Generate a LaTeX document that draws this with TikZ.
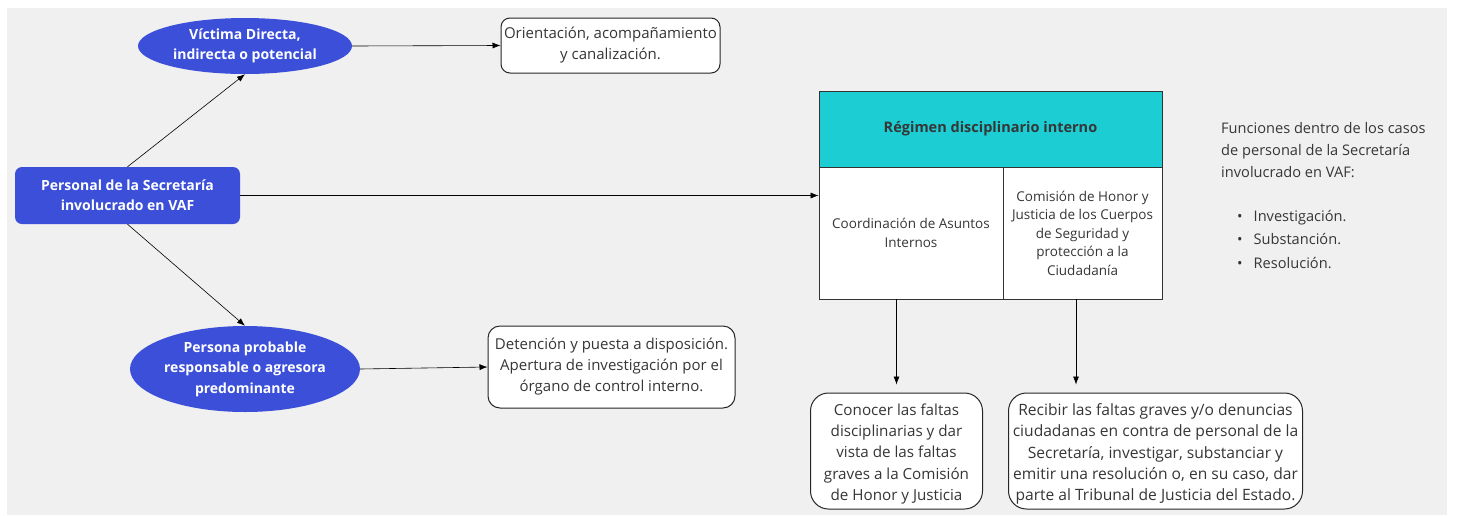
\documentclass[tikz,border=0pt]{standalone}
\usepackage{fontspec}
\setmainfont{Open Sans}
\usetikzlibrary{shapes.geometric,arrows.meta,calc}
\definecolor{bgc}{HTML}{F0F0F0}
\definecolor{blu}{HTML}{3B4FD9}
\definecolor{teal2}{HTML}{1CCDD4}
\definecolor{txt}{HTML}{363636}
\begin{document}
\begin{tikzpicture}[x=1pt,y=-1pt,
  arr/.style={-{Latex[length=8pt,width=6pt]},line width=0.6pt,black},
  bluebox/.style={fill=blu,draw=none,rounded corners=7pt,text=white,font=\fontsize{14}{20}\selectfont\bfseries,align=center,inner sep=0pt},
  blueell/.style={ellipse,fill=blu,draw=none,text=white,font=\fontsize{14}{20.5}\selectfont\bfseries,align=center,inner sep=0pt},
  wbox/.style={fill=white,draw=black!85,line width=1pt,text=txt,font=\fontsize{15}{21}\selectfont,align=center,inner sep=0pt},
  lowtext/.style={text=txt,align=center,inner sep=0pt,yshift=-3pt},
  cell/.style={fill=white,draw=black!80,line width=0.8pt,text=txt,font=\fontsize{13.5}{18.5}\selectfont,align=center,inner sep=0pt}]
\useasboundingbox (0,0) rectangle (1457,515);
\fill[white] (0,0) rectangle (1457,515);
\fill[bgc] (7,8) rectangle (1447,515);

\node[bluebox,minimum width=225pt,minimum height=57pt] (pers) at (127.5,195.5) {Personal de la Secretaría\\involucrado en VAF};
\node[blueell,minimum width=214pt,minimum height=56pt] (vic) at (245,46) {Víctima Directa,\\indirecta o potencial};
\node[blueell,minimum width=230pt,minimum height=86pt] (prob) at (245,369) {Persona probable\\responsable o agresora\\predominante};
\node[wbox,rounded corners=9pt,minimum width=219pt,minimum height=55pt] (ori) at (610.5,45.5) {Orientación, acompañamiento\\y canalización.};
\node[wbox,rounded corners=12pt,minimum width=247pt,minimum height=82pt] (det) at (611.5,367) {Detención y puesta a disposición.\\Apertura de investigación por el\\órgano de control interno.};

\node[cell,fill=teal2,minimum width=343pt,minimum height=76pt,font=\fontsize{14.5}{18}\selectfont\bfseries] (reg) at (990.5,129) {Régimen disciplinario interno};
\node[cell,minimum width=184pt,minimum height=132pt] (cai) at (911,233) {Coordinación de Asuntos\\Internos};
\node[cell,minimum width=159pt,minimum height=132pt] (chj) at (1082.5,233) {Comisión de Honor y\\Justicia de los Cuerpos\\de Seguridad y\\protección a la\\Ciudadanía};

\node[wbox,rounded corners=18pt,minimum width=172pt,minimum height=116pt,
  label={[lowtext,font=\fontsize{15.2}{21.2}\selectfont]center:{Conocer las faltas\\disciplinarias y dar\\vista de las faltas\\graves a la Comisión\\de Honor y Justicia}}] (con) at (896.5,451) {};
\node[wbox,rounded corners=18pt,minimum width=294pt,minimum height=116pt,
  label={[lowtext,font=\fontsize{15.6}{21.2}\selectfont]center:{Recibir las faltas graves y/o denuncias\\ciudadanas en contra de personal de la\\Secretaría, investigar, substanciar y\\emitir una resolución o, en su caso, dar\\parte al Tribunal de Justicia del Estado.}}] (rec) at (1155.5,451) {};

\node[anchor=north west,text=txt,font=\fontsize{14.6}{22}\selectfont,align=left,inner sep=0pt] (fun) at (1221,122) {Funciones dentro de los casos\\de personal de la Secretaría\\involucrado en VAF:};
\node[anchor=north west,text=txt,font=\fontsize{14.6}{23.5}\selectfont,align=left,inner sep=0pt] (lst) at (1237,210) {\textbullet\hspace{11pt}Investigación.\\\textbullet\hspace{11pt}Substanción.\\\textbullet\hspace{11pt}Resolución.};

\draw[arr] (pers.north) -- (vic.south);
\draw[arr] (pers.south) -- (prob.north);
\draw[arr] (vic.east) -- (ori.west);
\draw[arr] (prob.east) -- (det.west);
\draw[arr] (pers.east) -- (pers.east -| cai.west);
\draw[arr,shorten >=8pt] (con.north |- cai.south) -- (con.north);
\draw[arr,shorten >=8pt] ([xshift=-6.5pt]chj.south) -- ([xshift=-6.5pt]chj.south |- rec.north);
\end{tikzpicture}
\end{document}
